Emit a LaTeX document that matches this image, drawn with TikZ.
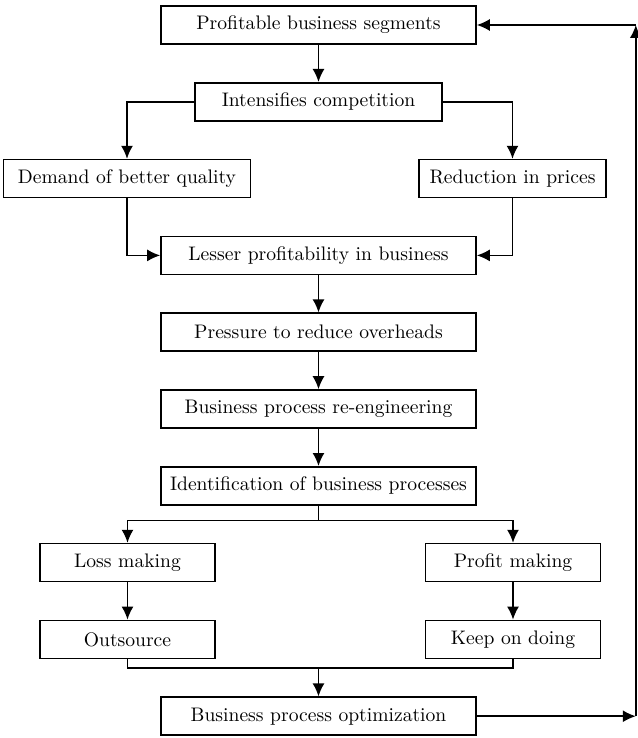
\documentclass[tikz,border=0pt]{standalone}
\usepackage{tikz}
\usetikzlibrary{shapes,arrows.meta,positioning}

\begin{document}
\begin{tikzpicture}[
    node distance=38.4pt,
    every node/.style={align=center, font=\fontsize{9.8pt}{11pt}\selectfont},
    stage/.style={rectangle, minimum width=157.5pt, minimum height=19pt, inner sep=2pt, text centered, draw=black, thick},
    midstage/.style={stage, minimum width=123.5pt},
    smallstage/.style={stage, minimum width=87.5pt},
    arrow/.style={thick,-{Latex[length=6.5pt,width=6pt]}}
]

% Frame
\useasboundingbox (-159.25pt,12.5pt) rectangle (159.25pt,-356.5pt);

% Upper flow
\node[stage] (profitable) {Profitable business segments};
\node[midstage, below of=profitable] (intensifies) {Intensifies competition};
\node[midstage, below of=intensifies, xshift=-95.75pt] (demand) {Demand of better quality};
\node[stage, below of=intensifies, xshift=97pt, minimum width=93.5pt] (reduction) {Reduction in prices};
\node[stage, below of=intensifies, node distance=76.8pt] (lesser) {Lesser profitability in business};
\node[stage, below of=lesser] (pressure) {Pressure to reduce overheads};
\node[stage, below of=pressure] (reengineering) {Business process re-engineering};
\node[stage, below of=reengineering] (identification) {Identification of business processes};

% Lower flow
\node[smallstage, below of=identification, xshift=-95.5pt] (loss) {Loss making};
\node[smallstage, below of=identification, xshift=97.25pt] (profit) {Profit making};
\node[smallstage, below of=loss] (outsource) {Outsource};
\node[smallstage, below of=profit] (keep) {Keep on doing};
\node[stage, below of=identification, node distance=115.2pt] (optimization) {Business process optimization};

% Helper points
\coordinate (split) at ([yshift=-7.5pt]identification.south);
\coordinate (merge_base) at (optimization.north |- outsource.south);
\coordinate (merge) at ([yshift=-4.5pt]merge_base);
\coordinate (loop_bottom) at ([xshift=79.5pt]optimization.east);
\coordinate (loop_top) at (loop_bottom |- profitable);

% Connections
\draw[arrow] (profitable) -- (intensifies);
\draw[arrow] (intensifies.west) -| (demand.north);
\draw[arrow] (intensifies.east) -| (reduction.north);
\draw[arrow] (demand.south) |- (lesser.west);
\draw[arrow] (reduction.south) |- (lesser.east);
\draw[arrow] (lesser) -- (pressure);
\draw[arrow] (pressure) -- (reengineering);
\draw[arrow] (reengineering) -- (identification);
\draw[thick] (identification.south) -- (split);
\draw[arrow] (split) -| (loss.north);
\draw[arrow] (split) -| (profit.north);
\draw[arrow] (loss) -- (outsource);
\draw[arrow] (profit) -- (keep);
\draw[thick] (outsource.south) |- (merge) -| (keep.south);
\draw[arrow] (merge) -- (optimization);

% Feedback loop
\draw[arrow] (optimization.east) -- (loop_bottom);
\draw[arrow] (loop_bottom) -- (loop_top);
\draw[arrow] (loop_top) -- (profitable.east);

\end{tikzpicture}
\end{document}
